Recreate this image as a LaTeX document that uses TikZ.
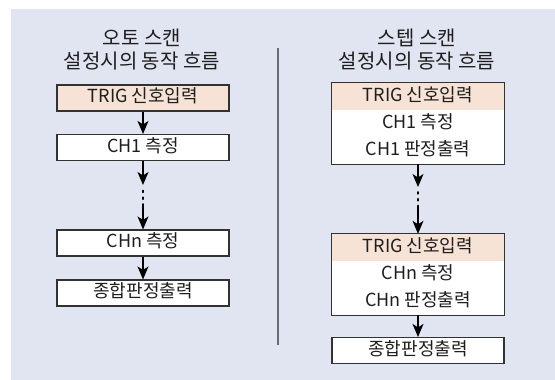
\documentclass[tikz,border=0pt]{standalone}
\usepackage{fontspec}
\setmainfont{Noto Sans CJK KR}
\usetikzlibrary{arrows.meta}
\definecolor{bgc}{RGB}{225,229,242}
\definecolor{trigfill}{RGB}{247,226,214}
\definecolor{boxline}{RGB}{50,50,50}
\definecolor{txt}{RGB}{30,30,30}
\definecolor{sepc}{RGB}{105,105,110}
\begin{document}
\begin{tikzpicture}[x=1pt,y=-1pt,
  boxfont/.style={font=\fontsize{18}{20}\selectfont, text=txt},
  box/.style={boxfont, draw=boxline, line width=1.1pt, fill=white, minimum width=172pt, minimum height=26pt, inner sep=0pt, text height=12.5pt, text depth=3pt},
  trig/.style={box, fill=trigfill},
  row/.style={boxfont, fill=white, minimum width=172pt, minimum height=27pt, inner sep=0pt, text height=12.5pt, text depth=3pt},
  title/.style={font=\fontsize{20}{23}\selectfont, text=txt, align=center, inner sep=0pt},
  arr/.style={line width=1.3pt, -{Stealth[length=13pt,width=11pt,inset=3.5pt]}},
  dots/.style={line width=1.8pt, dash pattern=on 1.8pt off 5pt, line cap=round},
]
\useasboundingbox (0,0) rectangle (555,380);
\fill[bgc] (11,9) rectangle (555,380);

% titles
\node[title] (tl) at (142,50) {오토 스캔\\설정시의 동작 흐름};
\node[title] (tr) at (417,50) {스텝 스캔\\설정시의 동작 흐름};

% separator
\coordinate (s1) at (278,48);
\coordinate (s2) at (278,345);
\draw[sepc, line width=1.5pt] (s1) -- (s2);

% left column
\node[trig] (lt) at (143,98) {TRIG 신호입력};
\node[box] (lc1) at (143,147.5) {CH1 측정};
\node[box] (lcn) at (143,243) {CHn 측정};
\node[box] (lsum) at (143,293) {종합판정출력};
\coordinate (la) at (143,185);
\coordinate (lb) at (143,205);
\draw[arr] (lt) -- (lc1);
\draw[arr] (lc1) -- (la);
\draw[dots] (143,190.5) -- (lb);
\draw[arr] (lb) -- (lcn);
\draw[arr] (lcn) -- (lsum);

% right column, block 1
\node[row, fill=trigfill] (r1a) at (418,96.5) {TRIG 신호입력};
\node[row] (r1b) at (418,123.5) {CH1 측정};
\node[row] (r1c) at (418,150.5) {CH1 판정출력};
\draw[boxline, line width=1.1pt] (r1a.north west) rectangle (r1c.south east);
% right column, block 2
\node[row, fill=trigfill] (r2a) at (418,247.5) {TRIG 신호입력};
\node[row] (r2b) at (418,274.5) {CHn 측정};
\node[row] (r2c) at (418,301.5) {CHn 판정출력};
\draw[boxline, line width=1.1pt] (r2a.north west) rectangle (r2c.south east);
\node[box] (rsum) at (418,350.5) {종합판정출력};
\coordinate (ra) at (418,187);
\coordinate (rb) at (418,206);
\draw[arr] (r1c.south) -- (ra);
\draw[dots] (418,192) -- (rb);
\draw[arr] (rb) -- (r2a.north);
\draw[arr] (r2c.south) -- (rsum);
\end{tikzpicture}
\end{document}
